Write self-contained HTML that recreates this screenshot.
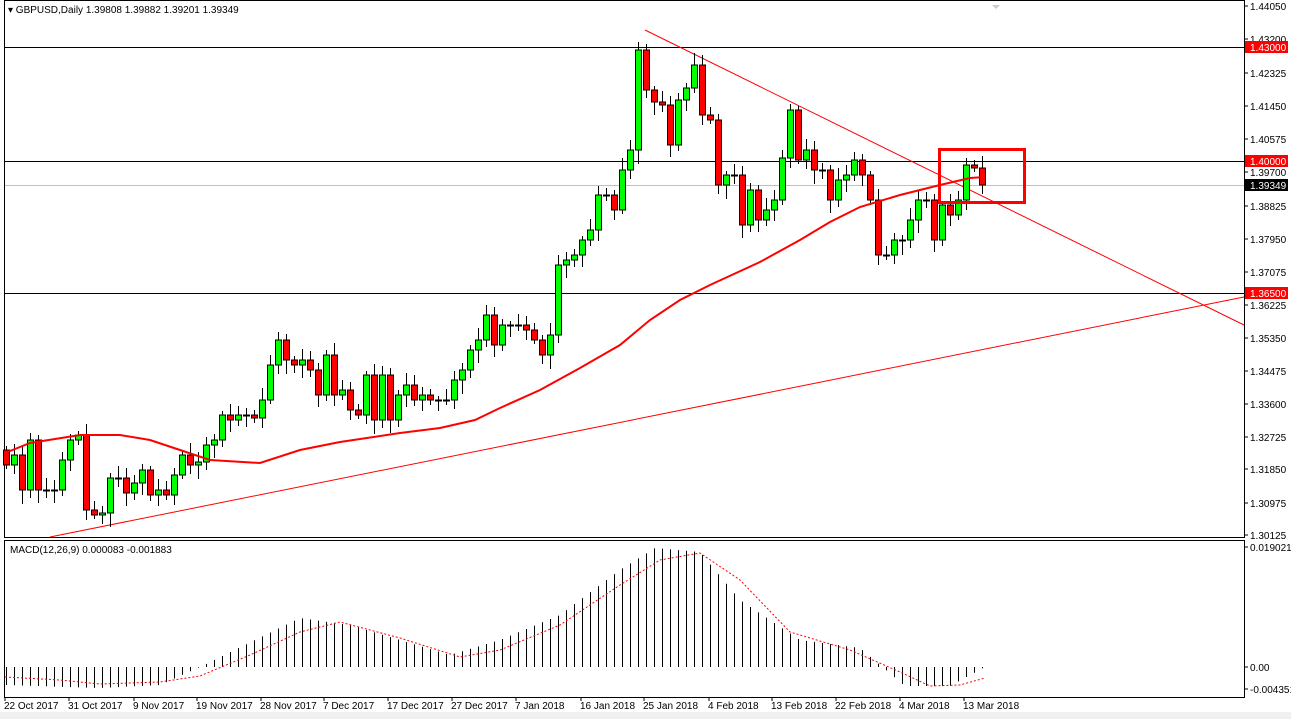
<!DOCTYPE html><html><head><meta charset="utf-8"><style>
body{margin:0;background:#fff;font-family:"Liberation Sans",sans-serif}
svg text{font-family:"Liberation Sans",sans-serif;font-size:10px;fill:#000}
</style></head><body>
<svg id="s" width="1291" height="719" xmlns="http://www.w3.org/2000/svg"></svg>
<script>
const s=document.getElementById('s');let h='';
h+='<rect width="1291" height="719" fill="#fff"/>';
h+='<rect x="0" y="712" width="1291" height="7" fill="#f0f0f0"/>';
// frames
h+='<rect x="4.5" y="0.5" width="1240" height="537" fill="none" stroke="#000"/>';
h+='<rect x="4.5" y="540.5" width="1240" height="157" fill="none" stroke="#000"/>';
// horizontal lines
[[47,'#000'],[161,'#000'],[293,'#000']].forEach(a=>h+=`<line x1="5" x2="1244" y1="${a[0]}.5" y2="${a[0]}.5" stroke="${a[1]}" stroke-width="1"/>`);
h+='<line x1="5" x2="1244" y1="185.5" y2="185.5" stroke="#c0c0c0"/>';
// trend lines
h+='<line x1="645" y1="30" x2="1244" y2="325" stroke="#f00"/>';
h+='<line x1="50" y1="537" x2="1244" y2="297" stroke="#f00"/>';
// candles
const c=[465,455,490,440,490,490,490,460,440,435,510,515,513,478,478,493,483,470,495,490,495,475,455,465,462,445,440,415,420,415,415,418,400,365,340,360,365,360,370,395,355,395,390,410,415,375,420,375,420,395,385,400,395,400,400,400,380,370,350,340,315,345,325,325,325,330,340,355,335,265,260,255,240,230,195,195,210,170,150,50,90,102,105,145,100,88,65,115,120,185,175,175,225,190,220,210,200,158,110,160,150,170,170,200,180,175,160,175,200,255,255,240,240,220,200,200,240,205,215,200,165,168,185];
let prev=450;
for(let i=0;i<c.length;i++){const x=6+8*i;let o=prev,cl=c[i];if(Math.abs(o-cl)<2)cl=o+1;
const top=Math.min(o,cl),bot=Math.max(o,cl);const hi=top-4-((i*7)%9),lo=bot+4+((i*5)%11);
const up=cl<o;h+=`<line x1="${x+.5}" x2="${x+.5}" y1="${hi}" y2="${lo}" stroke="#000"/>`;
h+=`<rect x="${x-2.5}" y="${top}" width="6" height="${bot-top}" fill="${up?'#00ff00':'#ff0000'}" stroke="#000"/>`;prev=c[i];}
// MA
h+='<polyline fill="none" stroke="#f00" stroke-width="2" points="5,453 30,443 80,435 120,435 150,440 180,450 210,460 260,463 300,450 340,442 400,433 440,428 475,420 500,408 540,390 580,368 620,345 650,320 680,300 710,285 760,262 800,240 830,222 860,207 900,195 940,185 970,178 985,177"/>';
// red box
h+='<rect x="939.5" y="149.5" width="85" height="53" fill="none" stroke="#f00" stroke-width="3"/>';
// MACD hist
function hv(x){const pts=[[5,685],[100,688],[160,685],[200,667],[300,618],[350,625],[450,655],[500,640],[560,615],[620,570],[655,548],[700,552],[740,600],[800,640],[860,648],[905,686],[950,686],[985,667]];
for(let k=0;k<pts.length-1;k++){if(x>=pts[k][0]&&x<=pts[k+1][0]){const t=(x-pts[k][0])/(pts[k+1][0]-pts[k][0]);return pts[k][1]+t*(pts[k+1][1]-pts[k][1]);}}return 667;}
for(let i=0;i<c.length;i++){const x=6+8*i+.5;const v=hv(x);h+=`<line x1="${x}" x2="${x}" y1="667" y2="${v}" stroke="#000"/>`;}
h+='<polyline fill="none" stroke="#f00" stroke-dasharray="2,2" points="5,677 60,680 100,684 160,682 200,676 250,655 300,632 340,622 400,638 460,657 500,650 560,625 620,585 660,560 700,553 740,580 790,632 850,650 900,672 930,686 960,685 985,678"/>';
// labels
h+='<text x="8" y="13">▾ GBPUSD,Daily 1.39808 1.39882 1.39201 1.39349</text>';
h+='<text x="10" y="553">MACD(12,26,9) 0.000083 -0.001883</text>';
[['1.44050',6],['1.43200',39],['1.42325',73],['1.41450',106],['1.40575',139],['1.39700',172],['1.38825',206],['1.37950',239],['1.37075',272],['1.36225',305],['1.35350',338],['1.34475',371],['1.33600',404],['1.32725',437],['1.31850',469],['1.30975',503],['1.30125',535],['0.019021',547],['0.00',667],['-0.004351',689]].forEach(a=>{h+=`<line x1="1244" x2="1248" y1="${a[1]}" y2="${a[1]}" stroke="#000"/><text x="1250" y="${a[1]+4}">${a[0]}</text>`});
[['1.43000',47,'#f00','#fff'],['1.40000',161,'#f00','#fff'],['1.36500',293,'#f00','#fff'],['1.39349',185,'#000','#fff']].forEach(a=>{h+=`<rect x="1245" y="${a[1]-6}" width="43" height="12" fill="${a[2]}"/><text x="1250" y="${a[1]+4}" style="fill:${a[3]}">${a[0]}</text>`});
[['22 Oct 2017',4],['31 Oct 2017',68],['9 Nov 2017',133],['19 Nov 2017',196],['28 Nov 2017',260],['7 Dec 2017',323],['17 Dec 2017',387],['27 Dec 2017',451],['7 Jan 2018',515],['16 Jan 2018',580],['25 Jan 2018',643],['4 Feb 2018',708],['13 Feb 2018',771],['22 Feb 2018',835],['4 Mar 2018',899],['13 Mar 2018',963]].forEach(a=>{h+=`<line x1="${a[1]+1}" x2="${a[1]+1}" y1="697" y2="701" stroke="#000"/><text x="${a[1]}" y="709">${a[0]}</text>`});
h+='<polygon points="992,5 1000,5 996,9" fill="#ccc"/>';
s.innerHTML=h;
</script></body></html>
